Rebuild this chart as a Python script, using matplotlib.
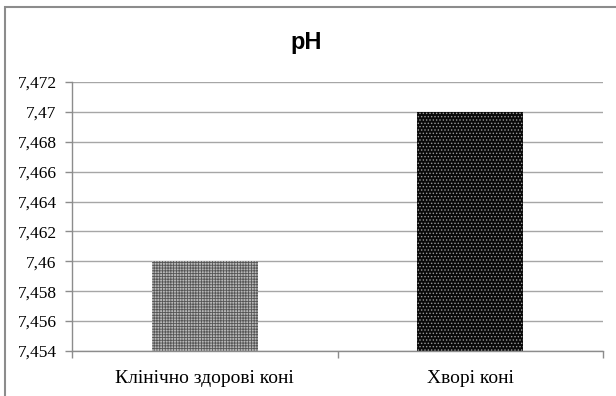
import matplotlib
matplotlib.use('Agg')
import matplotlib.pyplot as plt
import matplotlib.patches as mpatches
from matplotlib.ticker import FuncFormatter, FixedLocator
import numpy as np

groups = ["Клінічно здорові коні", "Хворі коні"]
ph_values = [7.46, 7.47]
y_ticks = [7.454, 7.456, 7.458, 7.46, 7.462, 7.464, 7.466, 7.468, 7.47, 7.472]


def comma_fmt(v, pos):
    s = f"{v:.3f}".rstrip("0").rstrip(".")
    return s.replace(".", ",")


plt.rcParams['hatch.linewidth'] = 0.6
fig = plt.figure(figsize=(6.16, 3.96), dpi=100)
ax = fig.add_axes([72 / 616, 45 / 396, 531 / 616, 269 / 396])

x = np.arange(len(groups))
ax.bar(x[0], ph_values[0], width=0.4, color='#b8b8b8', hatch='++++++',
       edgecolor='#555555', linewidth=0)
ax.bar(x[1], ph_values[1], width=0.4, color='#0a0a0a', hatch='.....',
       edgecolor='#9a9a9a', linewidth=0)

ax.set_ylim(7.454, 7.472)
ax.set_xlim(-0.5, 1.5)
ax.yaxis.set_major_locator(FixedLocator(y_ticks))
ax.yaxis.set_major_formatter(FuncFormatter(comma_fmt))
ax.grid(axis='y', color='#a6a6a6', linewidth=1)
ax.set_axisbelow(True)

ax.set_xticks(x)
ax.set_xticklabels(groups)
ax.set_xticks([-0.5, 0.5, 1.5], minor=True)
ax.tick_params(axis='x', which='major', length=0, pad=14, labelsize=14)
ax.tick_params(axis='x', which='minor', length=5, color='#8c8c8c', width=1)
ax.tick_params(axis='y', length=5, color='#8c8c8c', width=1, pad=6, labelsize=12.5)
for lbl in ax.get_xticklabels() + ax.get_yticklabels():
    lbl.set_fontfamily('Liberation Serif')

for side in ['top', 'right']:
    ax.spines[side].set_visible(False)
for side in ['left', 'bottom']:
    ax.spines[side].set_color('#8c8c8c')
    ax.spines[side].set_linewidth(1)

fig.text(0.497, 1 - 42 / 396, "pH", ha='center', va='center',
         fontsize=17, fontweight='bold', family='Liberation Sans')

# chart frame
fig.patches.append(mpatches.Rectangle((4.5 / 616, -0.1), 1.2, 1 - 7 / 396 + 0.1,
                                      transform=fig.transFigure, fill=False,
                                      edgecolor='#8c8c8c', linewidth=1.5))

fig.savefig('out.png', dpi=100)
